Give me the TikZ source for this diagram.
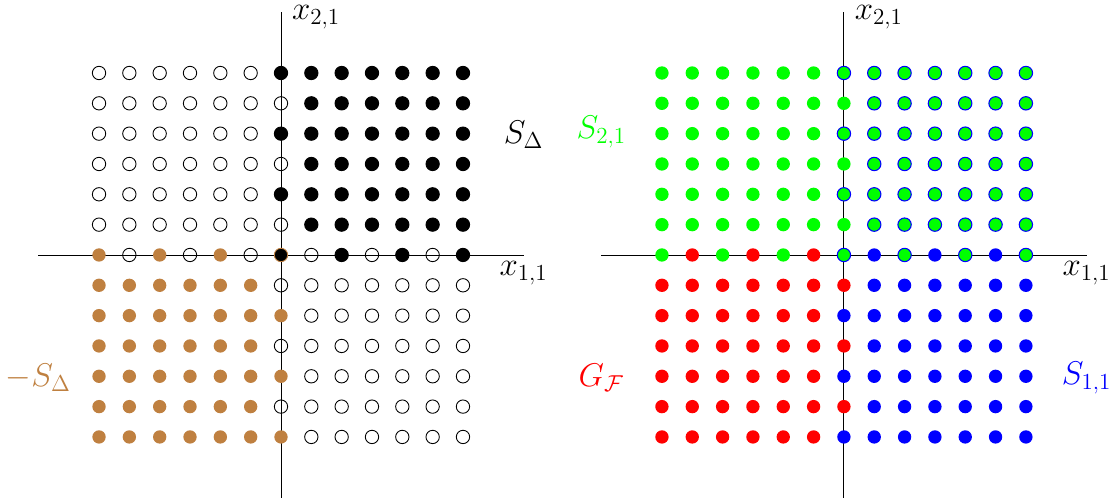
\documentclass[tikz,border=0pt]{standalone}
\usepackage{fix-cm}
\usepackage{tikz}
\definecolor{conebrown}{rgb}{0.75,0.5,0.25}

\begin{document}
\begin{tikzpicture}[x=6mm,y=6mm,
  lab/.style={font=\fontsize{18.5}{22}\selectfont},
  axis/.style={draw=black,line width=0.5pt},
  opendot/.style={draw=black,line width=0.5pt},
  blackdot/.style={fill=black,draw=black,line width=0.5pt},
  browndot/.style={fill=conebrown},
  greendot/.style={fill=green},
  bothdot/.style={fill=green,draw=blue,line width=0.6pt},
  reddot/.style={fill=red},
  bluedot/.style={fill=blue}]
  \useasboundingbox (-9.265,-8.045) rectangle (27.465,8.407);
  \coordinate (lw) at (-8,0); \coordinate (le) at (8,0);
  \coordinate (ls) at (0,-8); \coordinate (ln) at (0,8);
  \draw[axis] (lw) -- (le);
  \draw[axis] (ls) -- (ln);
  \foreach \i in {-6,...,-1} \foreach \j in {1,...,6} \draw[opendot] (\i,\j) circle (0.22);
  \foreach \i in {1,...,6} \foreach \j in {1,...,6} \draw[blackdot] (\i,\j) circle (0.22);
  \foreach \i in {-6,...,-1} \foreach \j in {-6,...,-1} \fill[browndot] (\i,\j) circle (0.22);
  \foreach \i in {1,...,6} \foreach \j in {-6,...,-1} \draw[opendot] (\i,\j) circle (0.22);
  \foreach \k in {2,4,6} {
    \draw[blackdot] (0,\k) circle (0.22);
    \draw[blackdot] (\k,0) circle (0.22);
    \fill[browndot] (0,-\k) circle (0.22);
    \fill[browndot] (-\k,0) circle (0.22);
  }
  \foreach \k in {1,3,5} {
    \draw[opendot] (0,\k) circle (0.22);
    \draw[opendot] (\k,0) circle (0.22);
    \draw[opendot] (0,-\k) circle (0.22);
    \draw[opendot] (-\k,0) circle (0.22);
  }
  \draw[blackdot,draw=conebrown] (0,0) circle (0.22);
  \node[lab,anchor=north] (lx) at (le) {$x_{1,1}$};
  \node[lab,anchor=west,inner sep=1pt,xshift=5pt,yshift=-2.5pt] (ly) at (ln) {$x_{2,1}$};
  \node[lab] (sdelta) at (8,3.95) {$S_\Delta$};
  \node[lab,text=conebrown] (msdelta) at (-8,-4.05) {$-S_\Delta$};
  \begin{scope}[shift={(18.56,0)}]
    \coordinate (rw) at (-8,0); \coordinate (re) at (8,0);
    \coordinate (rs) at (0,-8); \coordinate (rn) at (0,8);
    \draw[axis] (rw) -- (re);
    \draw[axis] (rs) -- (rn);
    \foreach \i in {-6,...,-1} \foreach \j in {1,...,6} \fill[greendot] (\i,\j) circle (0.22);
    \foreach \i in {1,...,6} \foreach \j in {1,...,6} \draw[bothdot] (\i,\j) circle (0.22);
    \foreach \i in {-6,...,-1} \foreach \j in {-6,...,-1} \fill[reddot] (\i,\j) circle (0.22);
    \foreach \i in {1,...,6} \foreach \j in {-6,...,-1} \fill[bluedot] (\i,\j) circle (0.22);
    \foreach \k in {2,4,6} {
      \draw[bothdot] (0,\k) circle (0.22);
      \draw[bothdot] (\k,0) circle (0.22);
      \fill[bluedot] (0,-\k) circle (0.22);
      \fill[greendot] (-\k,0) circle (0.22);
    }
    \foreach \k in {1,3,5} {
      \fill[greendot] (0,\k) circle (0.22);
      \fill[bluedot] (\k,0) circle (0.22);
      \fill[reddot] (0,-\k) circle (0.22);
      \fill[reddot] (-\k,0) circle (0.22);
    }
    \draw[bothdot] (0,0) circle (0.22);
    \node[lab,anchor=north] (rx) at (re) {$x_{1,1}$};
    \node[lab,anchor=west,inner sep=1pt,xshift=5pt,yshift=-2.5pt] (ry) at (rn) {$x_{2,1}$};
    \node[lab,text=green] (stwo) at (-8,4.05) {$S_{2,1}$};
    \node[lab,text=red] (gf) at (-8,-4.05) {$G_{\mathcal F}$};
    \node[lab,text=blue] (sone) at (8,-4.05) {$S_{1,1}$};
  \end{scope}
\end{tikzpicture}
\end{document}
